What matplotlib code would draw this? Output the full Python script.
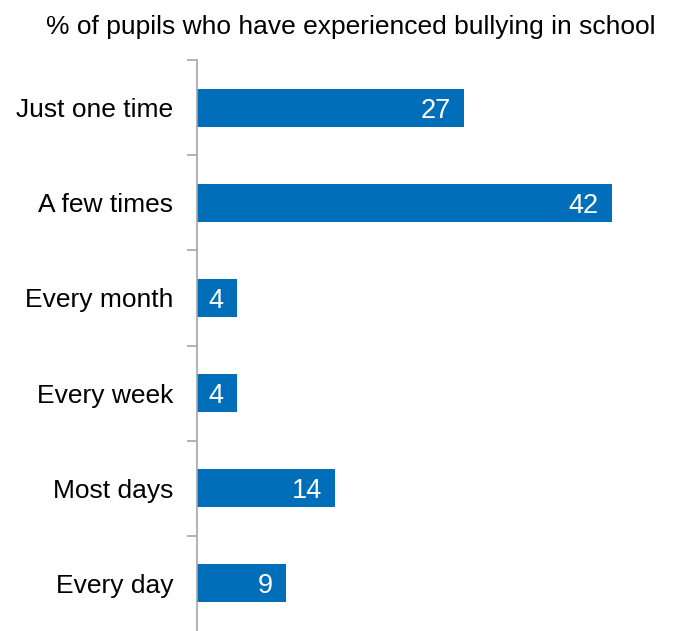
import matplotlib
matplotlib.use("Agg")
import matplotlib.pyplot as plt
import numpy as np

plt.rcParams["font.family"] = ["Liberation Sans", "DejaVu Sans"]

TITLE = "% of pupils who have experienced bullying in school"
categories = ["Just one time", "A few times", "Every month", "Every week", "Most days", "Every day"]
values = [27, 42, 4, 4, 14, 9]

BAR = "#006EB8"
GREY = "#A6A6A6"

fig = plt.figure(figsize=(6.76, 6.31), dpi=100)
ax = fig.add_axes([197 / 676, 0.0, 444.6 / 676, 1 - 60 / 631])

y = np.arange(len(categories))
ax.barh(y, values, height=0.4, color=BAR)
ax.set_ylim(len(categories) - 0.5, -0.5)
ax.set_xlim(0, 45)

for yi, v in zip(y, values):
    ax.annotate(f"{v}", xy=(v, yi), xytext=(-9.5, 0), textcoords="offset points",
                ha="right", va="center_baseline", color="white", fontsize=19.5)

ax.set_yticks(y)
ax.set_yticklabels(categories, fontsize=19)
ax.set_yticks(np.arange(-0.5, len(categories) - 0.5, 1), minor=True)
ax.tick_params(axis="y", which="major", length=0, pad=17)
ax.tick_params(axis="y", which="minor", length=7, color=GREY, width=1.2)
ax.set_xticks([])

for s in ["top", "right", "bottom"]:
    ax.spines[s].set_visible(False)
ax.spines["left"].set_color(GREY)
ax.spines["left"].set_linewidth(1.2)

fig.text(351 / 676, 1 - 27 / 631, TITLE, ha="center", va="center", fontsize=19)

fig.savefig("out.png", dpi=100)
